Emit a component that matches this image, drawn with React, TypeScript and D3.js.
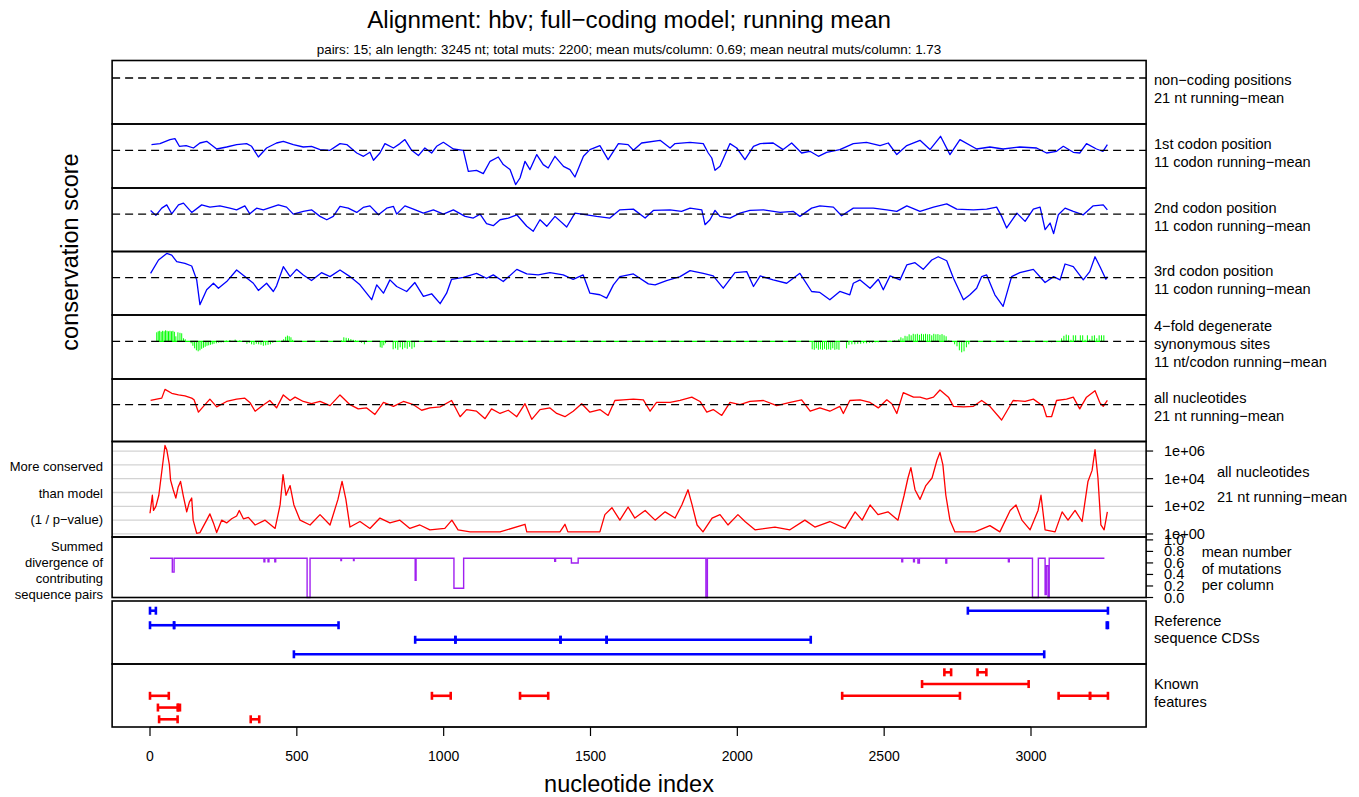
import * as d3 from "d3";

const W = 1359;
const H = 797;
const FONT = "'Liberation Sans', Arial, Helvetica, sans-serif";

// x axis ticks (nucleotide index)
const xTicks = [0, 500, 1000, 1500, 2000, 2500, 3000];

// running-mean conservation scores, [nucleotide, score]
const codon1: [number, number][] = [[5,0.57],[34,0.67],[68,1.07],[85,1.17],[100,0.4],[123,0.47],[148,0.23],[170,0.73],[193,0.9],[227,0.13],[261,0.33],[295,0.57],[329,0.67],[346,0.4],[369,-0.67],[397,0.23],[431,0.73],[454,0.9],[488,0.57],[522,0.33],[550,0.4],[579,0.07],[613,0],[647,0.67],[670,0.57],[704,-0.27],[727,-0.6],[749,-0.2],[761,-1.0],[783,-0.27],[800,0.67],[829,0.23],[851,0.67],[868,1.07],[891,0],[914,-0.53],[936,0.23],[959,-0.27],[976,0.4],[999,0.8],[1033,0.13],[1067,0],[1084,-2.1],[1112,-2.0],[1135,-2.33],[1158,-1.1],[1186,-0.67],[1203,-1.43],[1226,-1.93],[1245,-3.43],[1260,-2.77],[1277,-1.1],[1294,-1.93],[1317,-0.43],[1339,-1.43],[1356,-1.77],[1379,-0.6],[1408,-1.6],[1430,-1.93],[1447,-2.67],[1476,-0.6],[1498,0.07],[1532,0.47],[1560,-0.93],[1595,0.67],[1628,0.57],[1646,0],[1674,0.73],[1737,1.0],[1771,0.23],[1788,0.67],[1839,0.8],[1884,0.67],[1901,-0.27],[1913,-0.77],[1924,-2.0],[1941,-1.6],[1975,0.67],[1998,0.23],[2026,-0.93],[2055,0.4],[2078,0.67],[2122,0.73],[2156,0.07],[2185,0.73],[2219,-0.27],[2247,-0.1],[2276,-0.6],[2304,-0.2],[2349,0.07],[2395,0.67],[2440,0.8],[2486,0.47],[2514,0.73],[2543,-0.43],[2577,0.47],[2622,1.0],[2656,0.07],[2692,1.4],[2724,-0.43],[2758,1.07],[2815,0.13],[2860,0.33],[2905,0.13],[2962,0.33],[3019,0.23],[3053,-0.27],[3087,-0.1],[3110,0.4],[3144,-0.2],[3166,-0.27],[3189,0.67],[3223,0.13],[3245,-0.1],[3260,0.57]];

const codon2: [number, number][] = [[2,0.37],[20,-0.13],[40,0.6],[57,0.93],[74,0.03],[97,0.93],[114,1.1],[142,0.17],[176,0.93],[204,0.7],[238,0.83],[272,0.6],[295,0.43],[323,0.83],[340,0.03],[363,0.6],[386,0.43],[437,0.93],[465,0.7],[488,0],[522,0.27],[550,0.43],[579,-0.23],[602,-0.57],[624,-0.23],[647,0.77],[675,0.6],[704,0.17],[726,0.67],[749,0.83],[778,-0.07],[806,0.6],[829,0.77],[840,0],[868,0.83],[897,0.5],[931,0.1],[965,0.43],[999,0],[1033,0.43],[1073,-0.23],[1101,-0.4],[1124,0],[1146,-0.97],[1169,-1.17],[1192,-0.57],[1220,-0.4],[1249,-0.07],[1283,-1.23],[1305,-1.73],[1328,-0.57],[1351,-1.23],[1379,-0.23],[1419,-1.3],[1447,0.1],[1487,-0.07],[1521,-0.23],[1566,-0.4],[1600,0.43],[1646,0.5],[1686,-0.4],[1714,0.37],[1771,0.43],[1810,0.27],[1839,0.6],[1879,0.43],[1890,-1.07],[1907,-0.57],[1924,0.37],[1941,-0.23],[1975,-0.4],[2009,0.1],[2043,0.37],[2089,0.43],[2146,0.17],[2191,0.27],[2213,-0.23],[2253,0.6],[2281,0.83],[2327,0.7],[2355,-0.17],[2395,0.6],[2463,0.6],[2509,0.43],[2543,0.27],[2577,0.83],[2622,0.27],[2668,0.7],[2713,1.03],[2747,0.5],[2804,0.43],[2849,0.5],[2883,0.7],[2900,-0.23],[2917,-1.4],[2952,0.1],[2980,-0.73],[3008,0.5],[3031,0.7],[3048,-1.57],[3065,-0.9],[3077,-1.97],[3093,-0.07],[3116,0.6],[3144,0.27],[3178,-0.07],[3212,0.83],[3246,0.93],[3260,0.43]];

const codon3: [number, number][] = [[2,0.43],[29,1.77],[57,2.43],[74,2.27],[91,1.6],[119,1.43],[142,1.17],[159,-0.23],[170,-2.73],[193,-1.23],[216,-0.57],[233,-1.07],[261,-0.4],[295,0.77],[323,0.1],[352,-0.57],[369,-1.3],[397,-0.57],[420,-1.4],[431,-0.83],[454,1.1],[477,0.1],[499,0.83],[522,0.27],[550,-0.3],[584,0.5],[613,0.1],[647,0.77],[681,0.1],[715,-0.73],[755,-2.23],[772,-0.73],[795,-1.57],[817,-0.23],[840,-0.9],[874,-1.4],[902,-0.5],[931,-1.9],[959,-1.63],[988,-2.63],[1010,-1.57],[1027,-0.17],[1067,0.03],[1112,0.43],[1146,-0.07],[1169,0.27],[1203,-0.4],[1249,0.83],[1283,0.37],[1322,0.27],[1362,0.5],[1407,0.27],[1441,-0.17],[1475,0.27],[1498,-1.57],[1532,-1.73],[1555,-2.07],[1578,-0.73],[1600,0.1],[1646,0.37],[1697,-0.63],[1720,-0.73],[1759,-0.3],[1805,0.1],[1839,0.7],[1884,0.43],[1918,0.17],[1952,-1.07],[1992,0.5],[2032,0.6],[2055,-0.9],[2078,0.17],[2122,-0.23],[2168,-0.57],[2213,0.43],[2253,-1.4],[2281,-1.5],[2315,-2.23],[2349,-1.4],[2383,-1.73],[2395,-0.57],[2418,-0.23],[2452,-1.07],[2480,-0.17],[2497,-1.23],[2520,0.17],[2554,-0.23],[2577,1.27],[2605,1.5],[2633,0.83],[2662,1.77],[2684,2.1],[2713,1.7],[2736,-0.07],[2770,-2.23],[2792,-1.73],[2815,-1.07],[2832,0.1],[2849,0.27],[2877,-1.73],[2905,-2.9],[2934,0.1],[2962,0.5],[3008,0.83],[3048,-0.5],[3077,0.1],[3099,-0.23],[3116,1.37],[3144,1.1],[3178,-0.23],[3200,0.6],[3218,2.1],[3235,1.1],[3255,-0.17],[3260,0.1]];

// 4-fold degenerate synonymous sites (drawn as spikes from zero)
const fourfold: [number, number][] = [[23,0.9],[28,1.0],[33,1.05],[38,0.95],[43,1.05],[48,1.0],[53,1.1],[58,1.05],[63,1.0],[68,1.05],[73,1.0],[78,1.05],[83,0.95],[88,0.5],[95,0.9],[102,0.85],[108,0.8],[114,0.3],[120,0.2],[140,-0.2],[146,-0.45],[152,-0.7],[158,-0.9],[164,-1.0],[170,-0.9],[176,-0.75],[182,-0.65],[188,-0.55],[194,-0.45],[200,-0.4],[206,-0.35],[212,-0.3],[218,-0.25],[226,-0.2],[234,-0.15],[242,-0.12],[250,-0.1],[260,0.08],[272,0.12],[290,0.17],[306,0.1],[330,-0.25],[338,-0.15],[346,-0.3],[354,-0.35],[362,-0.25],[370,-0.3],[378,-0.35],[386,-0.45],[394,-0.4],[402,-0.35],[410,-0.3],[418,-0.15],[440,0.05],[455,0.2],[462,0.45],[468,0.57],[474,0.5],[480,0.4],[486,0.15],[652,0.1],[660,0.4],[668,0.35],[676,0.3],[684,0.22],[692,0.15],[700,0.1],[708,0.05],[720,-0.15],[730,-0.3],[784,-0.6],[790,-0.65],[796,-0.4],[802,-0.2],[828,-0.8],[836,-0.7],[844,-0.85],[852,-0.6],[860,-0.8],[868,-0.65],[876,-0.75],[884,-0.55],[892,-0.75],[900,-0.6],[2255,-0.8],[2262,-0.85],[2269,-0.7],[2276,-0.85],[2283,-0.8],[2290,-0.85],[2297,-0.75],[2304,-0.85],[2311,-0.8],[2318,-0.85],[2325,-0.7],[2332,-0.85],[2339,-0.8],[2346,-0.85],[2372,-0.7],[2380,-0.35],[2390,-0.3],[2400,-0.3],[2410,-0.25],[2420,-0.25],[2430,-0.2],[2440,-0.2],[2450,-0.15],[2460,-0.15],[2470,-0.1],[2480,-0.1],[2490,-0.08],[2505,0.05],[2520,0.08],[2535,0.1],[2550,0.2],[2557,0.4],[2564,0.3],[2571,0.55],[2578,0.5],[2585,0.7],[2592,0.6],[2599,0.75],[2606,0.7],[2613,0.75],[2620,0.65],[2627,0.75],[2634,0.7],[2641,0.75],[2648,0.7],[2655,0.72],[2662,0.6],[2669,0.75],[2676,0.7],[2683,0.72],[2690,0.65],[2697,0.72],[2704,0.6],[2711,0.5],[2720,0.1],[2740,-0.3],[2748,-0.5],[2756,-0.9],[2764,-1.1],[2772,-1.0],[2780,-0.6],[2788,-0.3],[3054,-0.1],[3070,-0.1],[3104,0.3],[3112,0.55],[3120,0.67],[3128,0.6],[3136,0.15],[3144,0.6],[3152,0.6],[3160,0.1],[3168,0.6],[3176,0.6],[3184,0.15],[3192,0.6],[3200,0.2],[3208,0.55],[3216,0.6],[3224,0.3],[3232,0.6],[3240,0.6],[3248,0.6]];
const fourfoldSpan = [23, 3248];

const allNt: [number, number][] = [[2,0.43],[23,0.57],[40,0.67],[51,1.57],[74,1.17],[97,1.0],[119,0.9],[142,0.67],[150,0.5],[165,-0.77],[182,-0.17],[204,0.57],[227,-0.23],[261,0.33],[295,0.57],[323,0.67],[340,0.23],[358,-0.67],[380,-0.17],[408,0.43],[431,-0.33],[454,1.0],[477,0.43],[494,0.77],[522,0.33],[550,0.1],[579,0.33],[613,-0.1],[647,1.0],[681,0],[709,-0.43],[738,-0.33],[766,-1.0],[795,0.23],[829,-0.17],[863,0.33],[897,0],[925,-0.57],[953,-0.33],[988,-0.23],[1027,0.43],[1056,-1.23],[1078,-0.5],[1112,-0.67],[1141,-1.43],[1163,-0.43],[1192,-0.9],[1220,-0.57],[1249,-1.23],[1277,0.1],[1300,-1.5],[1328,-0.5],[1362,-0.33],[1385,-0.9],[1413,-1.23],[1441,-0.67],[1470,0.1],[1498,-0.77],[1532,-0.5],[1560,-1.1],[1583,0.43],[1611,0.5],[1646,0.57],[1680,0.5],[1703,-0.67],[1725,0.23],[1771,0.23],[1805,0.43],[1845,0.77],[1873,0.33],[1896,-0.77],[1918,-0.5],[1947,-1.1],[1975,0.23],[2009,0],[2043,0.33],[2089,0.43],[2134,-0.1],[2180,0.23],[2219,0.5],[2248,-0.67],[2281,-0.33],[2315,-0.67],[2349,-0.17],[2361,-0.9],[2383,0.43],[2418,0.5],[2452,0.23],[2480,-0.33],[2509,0.5],[2526,0.1],[2543,-0.9],[2565,1.23],[2600,0.77],[2622,0.77],[2645,0.57],[2668,0.77],[2690,1.5],[2719,0.77],[2736,-0.17],[2770,-0.23],[2804,-0.17],[2832,0.43],[2860,-0.17],[2900,-1.57],[2939,0.43],[2980,0.33],[3008,0.57],[3042,-0.17],[3053,-1.23],[3070,-1.23],[3087,0.43],[3121,0.57],[3144,0.77],[3166,-0.43],[3189,0.77],[3218,1.43],[3235,0.17],[3246,-0.17],[3260,0.43]];

// log10(1 / p-value), all nucleotides
const pvalLog: [number, number][] = [[0,1.5],[8,2.8],[12,1.7],[20,2.0],[30,2.8],[45,5.35],[51,6.4],[57,6.1],[66,5.0],[70,3.9],[79,3.2],[88,2.6],[96,3.4],[104,3.8],[113,2.8],[125,1.6],[134,2.3],[142,2.6],[147,1.0],[159,0.05],[170,0.1],[193,1.0],[204,1.45],[216,0.8],[227,0.1],[244,1.0],[261,0.8],[278,1.1],[295,1.3],[304,1.7],[318,1.1],[335,1.2],[358,0.65],[392,1.0],[426,0.4],[443,2.1],[453,4.3],[463,2.8],[477,3.5],[490,2.1],[511,1.0],[545,0.65],[579,1.4],[613,0.65],[640,2.5],[654,3.8],[667,2.5],[681,0.5],[715,0.9],[749,0.4],[783,1.15],[817,0.8],[851,1.0],[885,0.4],[919,0.65],[953,0.3],[1004,0.4],[1028,1.0],[1049,0.3],[1090,0.15],[1192,0.15],[1277,0.7],[1283,0.15],[1396,0.15],[1413,0.7],[1423,0.15],[1532,0.15],[1549,1.4],[1573,1.9],[1600,1.0],[1628,1.95],[1651,1.15],[1686,1.7],[1720,1.0],[1754,1.6],[1788,1.15],[1811,2.1],[1832,3.2],[1846,2.1],[1863,0.65],[1883,0.15],[1914,1.15],[1941,1.4],[1968,0.65],[2002,1.4],[2026,0.9],[2060,0.3],[2128,0.5],[2179,0.3],[2230,1.0],[2264,0.5],[2315,0.9],[2367,0.4],[2401,1.6],[2425,1.0],[2452,2.1],[2479,1.4],[2513,1.6],[2547,1.0],[2568,2.8],[2581,4.05],[2591,4.8],[2605,3.2],[2622,2.5],[2642,3.5],[2663,4.05],[2680,5.35],[2690,5.9],[2700,5.0],[2710,2.8],[2724,1.0],[2741,0.15],[2809,0.15],[2860,0.6],[2894,0.15],[2929,1.7],[2949,2.1],[2969,1.0],[2997,0.3],[3024,1.7],[3034,2.8],[3048,0.3],[3082,0.15],[3106,1.6],[3126,1.0],[3150,1.7],[3174,0.9],[3194,3.8],[3208,4.6],[3218,6.1],[3228,4.05],[3238,0.65],[3249,0.3],[3260,1.6]];

// summed divergence (mean mutations per column), step changes [nucleotide, value]
const divergence: [number, number][] = [[0,0.68],[76,0.44],[82,0.68],[388,0.62],[391,0.68],[402,0.62],[405,0.68],[425,0.62],[428,0.68],[535,0.0],[545,0.68],[650,0.64],[652,0.68],[693,0.64],[695,0.68],[903,0.3],[906,0.68],[1035,0.16],[1068,0.68],[1378,0.63],[1381,0.68],[1435,0.6],[1458,0.68],[1893,0.0],[1898,0.68],[2560,0.62],[2563,0.68],[2600,0.62],[2603,0.68],[2615,0.6],[2620,0.68],[2710,0.6],[2713,0.68],[2923,0.62],[2926,0.68],[3005,0.0],[3025,0.68],[3048,0.05],[3052,0.55],[3058,0.0],[3062,0.68],[3250,0.68]];

// reference sequence CDSs: [start, end, row]
const cdsSegments: [number, number, number][] = [[0,20,0],[2785,3262,0],[0,82,1],[82,642,1],[3258,3262,1],[903,1040,2],[1040,1398,2],[1398,1555,2],[1555,2250,2],[490,3045,3]];

// known features: [start, end, row]
const featureSegments: [number, number, number][] = [[2705,2728,0],[2818,2848,0],[2629,2992,1],[0,64,2],[960,1024,2],[1260,1356,2],[2357,2758,2],[3094,3201,2],[3201,3262,2],[27,95,3],[95,102,3],[31,94,4],[343,372,4]];

const pTicks = [0, 2, 4, 6];
const pGrid = [0, 1, 2, 3, 4, 5, 6];
const divTicks = [0, 0.2, 0.4, 0.6, 0.8, 1.0];

export default function App() {
  const x = d3.scaleLinear().domain([0, 3000]).range([150, 1031]);
  const xl = x(-129);
  const xr = x(3392);

  const scorePanels = [
    { top: 60.5, bottom: 124, domain: [-4.6, 1.75], data: null as [number, number][] | null, color: "", labels: ["non−coding positions", "21 nt running−mean"] },
    { top: 124, bottom: 188, domain: [-3.77, 2.63], data: codon1, color: "#0000ff", labels: ["1st codon position", "11 codon running−mean"] },
    { top: 188, bottom: 251.5, domain: [-3.77, 2.63], data: codon2, color: "#0000ff", labels: ["2nd codon position", "11 codon running−mean"] },
    { top: 251.5, bottom: 315, domain: [-3.77, 2.63], data: codon3, color: "#0000ff", labels: ["3rd codon position", "11 codon running−mean"] },
    { top: 315, bottom: 379, domain: [-3.77, 2.63], data: null, color: "#00ff00", labels: ["4−fold degenerate", "synonymous sites", "11 nt/codon running−mean"] },
    { top: 379, bottom: 441.5, domain: [-3.77, 2.63], data: allNt, color: "#ff0000", labels: ["all nucleotides", "21 nt running−mean"] },
  ];

  const pPanel = { top: 441.5, bottom: 537 };
  const yP = d3.scaleLinear().domain([-0.22, 6.69]).range([pPanel.bottom, pPanel.top]);
  const dPanel = { top: 537, bottom: 597.5 };
  const yD = d3.scaleLinear().domain([0, 1.05]).range([dPanel.bottom, dPanel.top]);
  const cPanel = { top: 601, bottom: 664 };
  const yC = d3.scaleLinear().domain([0, 3]).range([610.7, 654.3]);
  const fPanel = { top: 664, bottom: 727 };
  const yF = d3.scaleLinear().domain([0, 4]).range([672.3, 719.3]);

  const labelX = 1154;
  const fs = 14.6;

  const segs = (list: [number, number, number][], yS: d3.ScaleLinear<number, number>, color: string, key: string) =>
    list.map(([s, e, r], i) => {
      const yy = yS(r);
      return (
        <g key={key + i} stroke={color} strokeWidth={2.6}>
          <line x1={x(s)} x2={x(e)} y1={yy} y2={yy} />
          <line x1={x(s)} x2={x(s)} y1={yy - 4} y2={yy + 4} />
          <line x1={x(e)} x2={x(e)} y1={yy - 4} y2={yy + 4} />
        </g>
      );
    });

  return (
    <div style={{ position: "absolute", left: 0, top: 0 }}>
      <svg width={W} height={H} style={{ display: "block", background: "#fff" }} fontFamily={FONT}>
        <rect width={W} height={H} fill="#fff" />
        <text x={629} y={28} textAnchor="middle" fontSize={24.2}>Alignment: hbv; full−coding model; running mean</text>
        <text x={629} y={53.5} textAnchor="middle" fontSize={13.4}>pairs: 15; aln length: 3245 nt; total muts: 2200; mean muts/column: 0.69; mean neutral muts/column: 1.73</text>

        {scorePanels.map((p, i) => {
          const y = d3.scaleLinear().domain(p.domain).range([p.bottom, p.top]);
          const line = d3.line<[number, number]>().x((d) => x(d[0])).y((d) => y(d[1]));
          const mid = (p.top + p.bottom) / 2 - 3;
          const n = p.labels.length;
          return (
            <g key={"sp" + i}>
              {i === 4 && (
                <g stroke={p.color} strokeWidth={1}>
                  <line x1={x(fourfoldSpan[0])} x2={x(fourfoldSpan[1])} y1={y(0)} y2={y(0)} strokeWidth={1.3} />
                  {fourfold.map((d, j) => (
                    <line key={j} x1={x(d[0])} x2={x(d[0])} y1={y(0)} y2={y(d[1])} />
                  ))}
                </g>
              )}
              {p.data && <path d={line(p.data) || ""} fill="none" stroke={p.color} strokeWidth={1.3} strokeLinejoin="round" />}
              <line x1={xl} x2={xr} y1={y(0)} y2={y(0)} stroke="#000" strokeWidth={1.3} strokeDasharray="8,5" />
              {p.labels.map((t, j) => (
                <text key={j} x={labelX} y={mid + (j - (n - 1) / 2) * 18} fontSize={fs} dominantBaseline="central">{t}</text>
              ))}
              <rect x={xl} y={p.top} width={xr - xl} height={p.bottom - p.top} fill="none" stroke="#000" strokeWidth={1.6} />
            </g>
          );
        })}

        {/* p-value panel */}
        {pGrid.map((g) => (
          <line key={"g" + g} x1={xl} x2={xr} y1={yP(g)} y2={yP(g)} stroke="#d3d3d3" strokeWidth={1.3} />
        ))}
        <path d={d3.line<[number, number]>().x((d) => x(d[0])).y((d) => yP(d[1]))(pvalLog) || ""} fill="none" stroke="#ff0000" strokeWidth={1.3} strokeLinejoin="round" />
        <rect x={xl} y={pPanel.top} width={xr - xl} height={pPanel.bottom - pPanel.top} fill="none" stroke="#000" strokeWidth={1.6} />
        {pTicks.map((t) => (
          <g key={"pt" + t}>
            <line x1={xr} x2={xr + 7} y1={yP(t)} y2={yP(t)} stroke="#000" strokeWidth={1.2} />
            <text x={1164} y={yP(t)} fontSize={fs} dominantBaseline="central">{"1e+0" + t}</text>
          </g>
        ))}
        <text x={1217} y={472.3} fontSize={fs} dominantBaseline="central">all nucleotides</text>
        <text x={1217} y={496.7} fontSize={fs} dominantBaseline="central">21 nt running−mean</text>
        {["More conserved", "than model", "(1 / p−value)"].map((t, j) => (
          <text key={"pl" + j} x={103} y={466.7 + j * 26.3} fontSize={13} textAnchor="end" dominantBaseline="central">{t}</text>
        ))}

        {/* divergence panel */}
        <path d={d3.line<[number, number]>().x((d) => x(d[0])).y((d) => yD(d[1])).curve(d3.curveStepAfter)(divergence) || ""} fill="none" stroke="#a020f0" strokeWidth={1.4} />
        <rect x={xl} y={dPanel.top} width={xr - xl} height={dPanel.bottom - dPanel.top} fill="none" stroke="#000" strokeWidth={1.6} />
        {divTicks.map((t) => (
          <g key={"dt" + t}>
            <line x1={xr} x2={xr + 7} y1={yD(t)} y2={yD(t)} stroke="#000" strokeWidth={1.2} />
            <text x={1164} y={yD(t)} fontSize={fs} dominantBaseline="central">{t.toFixed(1)}</text>
          </g>
        ))}
        {["mean number", "of mutations", "per column"].map((t, j) => (
          <text key={"dl" + j} x={1201.7} y={552.3 + j * 16.5} fontSize={fs} dominantBaseline="central">{t}</text>
        ))}
        {["Summed", "divergence of", "contributing", "sequence pairs"].map((t, j) => (
          <text key={"sl" + j} x={103} y={546 + j * 16} fontSize={13} textAnchor="end" dominantBaseline="central">{t}</text>
        ))}

        {/* CDS panel */}
        {segs(cdsSegments, yC, "#0000ff", "c")}
        <rect x={xl} y={cPanel.top} width={xr - xl} height={cPanel.bottom - cPanel.top} fill="none" stroke="#000" strokeWidth={1.6} />
        <text x={labelX} y={620.5} fontSize={fs} dominantBaseline="central">Reference</text>
        <text x={labelX} y={637.5} fontSize={fs} dominantBaseline="central">sequence CDSs</text>

        {/* known features panel */}
        {segs(featureSegments, yF, "#ff0000", "f")}
        <rect x={xl} y={fPanel.top} width={xr - xl} height={fPanel.bottom - fPanel.top} fill="none" stroke="#000" strokeWidth={1.6} />
        <text x={labelX} y={684} fontSize={fs} dominantBaseline="central">Known</text>
        <text x={labelX} y={701.5} fontSize={fs} dominantBaseline="central">features</text>

        {/* x axis */}
        <line x1={x(0)} x2={x(3000)} y1={fPanel.bottom} y2={fPanel.bottom} stroke="#000" strokeWidth={1.2} />
        {xTicks.map((t) => (
          <g key={"xt" + t}>
            <line x1={x(t)} x2={x(t)} y1={fPanel.bottom} y2={fPanel.bottom + 9} stroke="#000" strokeWidth={1.2} />
            <text x={x(t)} y={756} fontSize={14} textAnchor="middle" dominantBaseline="central">{t}</text>
          </g>
        ))}
        <text x={629} y={792} fontSize={23.5} textAnchor="middle">nucleotide index</text>
        <text transform="translate(78,252) rotate(-90)" fontSize={23.5} textAnchor="middle">conservation score</text>
      </svg>
    </div>
  );
}
